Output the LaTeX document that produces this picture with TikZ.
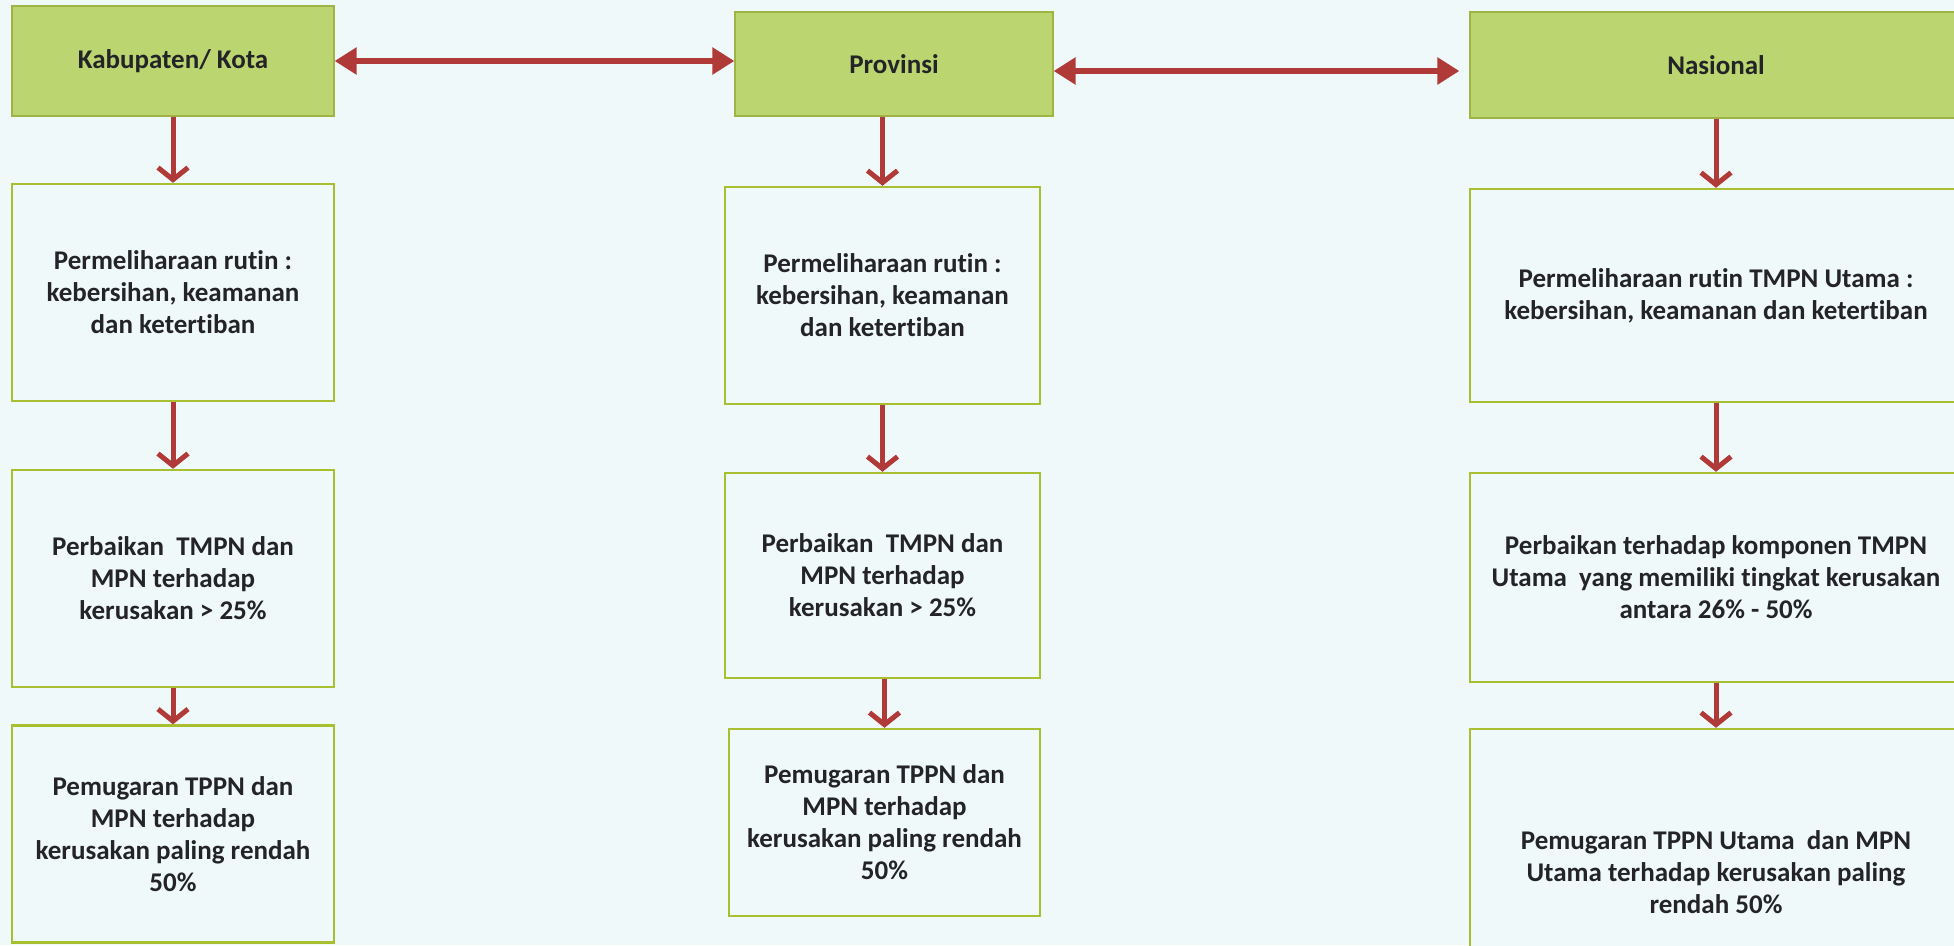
\documentclass[tikz,border=0pt]{standalone}
\usepackage{fontspec}
\setmainfont{Carlito}[Ligatures=NoCommon]
\usetikzlibrary{arrows.meta}
\definecolor{bgpage}{RGB}{240,249,250}
\definecolor{hdrfill}{RGB}{187,214,112}
\definecolor{hdrline}{RGB}{160,180,70}
\definecolor{boxline}{RGB}{168,192,48}
\definecolor{arrowred}{RGB}{176,58,56}
\definecolor{txt}{RGB}{35,35,40}
\begin{document}
\begin{tikzpicture}[x=1pt,y=-1pt,
  every node/.style={font=\fontsize{27}{32}\selectfont\bfseries,text=txt,align=center,inner sep=0pt},
  hdr/.style={draw=hdrline,line width=1.2pt,fill=hdrfill},
  tbox/.style={draw=boxline,line width=2.4pt,fill=bgpage},
  harrow/.style={draw=arrowred,line width=6pt,{Triangle[length=22pt,width=26pt]}-{Triangle[length=22pt,width=26pt]}},
  varrow/.style={draw=arrowred,line width=5pt,-{Straight Barb[length=12pt,width=30pt]}}]
  \useasboundingbox (0,0) rectangle (1954,945);
  \fill[bgpage] (0,0) rectangle (1954,945);
  \clip (0,0) rectangle (1954,945);
  % level headers
  \node[hdr,minimum width=322pt,minimum height=110pt] (kab) at (173,61) {Kabupaten/ Kota};
  \node[hdr,minimum width=318pt,minimum height=104pt] (prov) at (894,64) {Provinsi};
  \node[hdr,minimum width=492pt,minimum height=106pt] (nas) at (1716,65) {Nasional};
  % Kabupaten/ Kota
  \node[tbox,minimum width=322pt,minimum height=217pt] (kab1) at (173,292.5) {Permeliharaan rutin :\\kebersihan, keamanan\\dan ketertiban};
  \node[tbox,minimum width=322pt,minimum height=217pt] (kab2) at (173,578.5) {Perbaikan~ TMPN dan\\MPN terhadap\\kerusakan > 25\%};
  \node[tbox,minimum width=322pt,minimum height=217pt] (kab3) at (173,834) {Pemugaran TPPN dan\\MPN terhadap\\kerusakan paling rendah\\50\%};
  % Provinsi
  \node[tbox,minimum width=315pt,minimum height=217pt] (prov1) at (882.5,295.5) {Permeliharaan rutin :\\kebersihan, keamanan\\dan ketertiban};
  \node[tbox,minimum width=315pt,minimum height=205pt] (prov2) at (882.5,575.5) {Perbaikan~ TMPN dan\\MPN terhadap\\kerusakan > 25\%};
  \node[tbox,minimum width=311pt,minimum height=187pt] (prov3) at (884.5,822.5) {Pemugaran TPPN dan\\MPN terhadap\\kerusakan paling rendah\\50\%};
  % Nasional
  \node[tbox,minimum width=492pt,minimum height=213pt] (nas1) at (1716,295.5) {Permeliharaan rutin TMPN Utama :\\kebersihan, keamanan dan ketertiban};
  \node[tbox,minimum width=492pt,minimum height=209pt] (nas2) at (1716,577.5) {Perbaikan terhadap komponen TMPN\\Utama~ yang memiliki tingkat kerusakan\\antara 26\% - 50\%};
  \node[tbox,minimum width=492pt,minimum height=286pt] (nas3) at (1716,872) {Pemugaran TPPN Utama~ dan MPN\\Utama terhadap kerusakan paling\\rendah 50\%};
  % arrows
  \draw[harrow] (kab.east) -- (kab.east -| prov.west);
  \draw[harrow,shorten >=10pt] ([yshift=-7pt]prov.east) -- ([yshift=-7pt]prov.east -| nas.west);
  \foreach \a/\b in {kab/kab1,kab1/kab2,kab2/kab3,prov/prov1,prov1/prov2,prov2/prov3,nas/nas1,nas1/nas2,nas2/nas3}
    \draw[varrow] (\b.north |- \a.south) -- (\b.north);
\end{tikzpicture}
\end{document}
